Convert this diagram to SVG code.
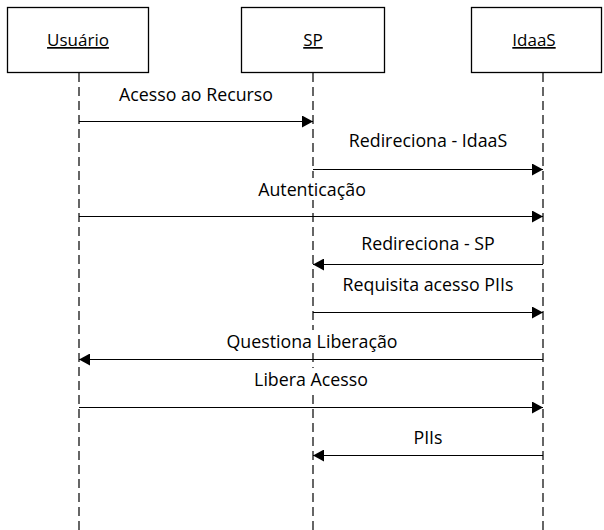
<svg xmlns="http://www.w3.org/2000/svg" width="604" height="530" viewBox="0 0 604 530">
  <defs>
    <marker id="arrow" markerWidth="12" markerHeight="12" refX="11" refY="6" orient="auto" markerUnits="userSpaceOnUse">
      <path d="M0,0 L11,6 L0,12 Z" fill="#000"/>
    </marker>
  </defs>
  <style>
    .box { fill: #fff; stroke: #000; stroke-width: 1.3; }
    .life { stroke: #000; stroke-width: 1.2; stroke-dasharray: 9 5; fill: none; }
    .head { font-family: "Open Sans", "DejaVu Sans", sans-serif; font-size: 17px; text-anchor: middle; text-decoration: underline; fill: #000; }
    .msg { stroke: #000; stroke-width: 1.2; fill: none; marker-end: url(#arrow); }
    .lbl { font-family: "Open Sans", "DejaVu Sans", sans-serif; font-size: 17.8px; text-anchor: middle; fill: #000; }
    .bg { fill: #fff; }
  </style>
  <rect width="604" height="530" fill="#fff"/>

  <!-- lifelines -->
  <g id="lifelines">
    <line class="life" x1="79" y1="73" x2="79" y2="530"/>
    <line class="life" x1="313" y1="73" x2="313" y2="530"/>
    <line class="life" x1="543" y1="73" x2="543" y2="530"/>
  </g>

  <!-- participants -->
  <g id="usuario">
    <rect class="box" x="7.5" y="7.5" width="141" height="65"/>
    <text class="head" x="78" y="46">Usuário</text>
  </g>
  <g id="sp">
    <rect class="box" x="241.5" y="7.5" width="143" height="65"/>
    <text class="head" x="313" y="46">SP</text>
  </g>
  <g id="idaas">
    <rect class="box" x="471.5" y="7.5" width="130" height="65"/>
    <text class="head" x="534" y="46">IdaaS</text>
  </g>

  <!-- messages -->
  <g id="connectors">
    <line class="msg" x1="79" y1="121.5" x2="313" y2="121.5"/>
    <line class="msg" x1="313" y1="169.5" x2="543" y2="169.5"/>
    <line class="msg" x1="79" y1="216.5" x2="543" y2="216.5"/>
    <line class="msg" x1="543" y1="264.5" x2="313" y2="264.5"/>
    <line class="msg" x1="313" y1="312.5" x2="543" y2="312.5"/>
    <line class="msg" x1="543" y1="359.5" x2="79" y2="359.5"/>
    <line class="msg" x1="79" y1="407.5" x2="543" y2="407.5"/>
    <line class="msg" x1="543" y1="455.5" x2="313" y2="455.5"/>
  </g>

  <!-- message labels, each on a white backing so lifelines pass behind -->
  <g id="labels">
    <rect class="bg" x="113" y="83" width="166" height="22"/>
    <text class="lbl" x="196" y="100.5">Acesso ao Recurso</text>
    <rect class="bg" x="342" y="130" width="172" height="22"/>
    <text class="lbl" x="428" y="147">Redireciona - IdaaS</text>
    <rect class="bg" x="255" y="178" width="116" height="22"/>
    <text class="lbl" x="312" y="196">Autenticação</text>
    <rect class="bg" x="356" y="232" width="146" height="22"/>
    <text class="lbl" x="428" y="250">Redireciona - SP</text>
    <rect class="bg" x="340" y="273" width="176" height="22"/>
    <text class="lbl" x="428" y="291">Requisita acesso PIIs</text>
    <rect class="bg" x="226" y="330" width="172" height="22"/>
    <text class="lbl" x="312" y="348">Questiona Liberação</text>
    <rect class="bg" x="254" y="368" width="116" height="22"/>
    <text class="lbl" x="311" y="386">Libera Acesso</text>
    <rect class="bg" x="411" y="426" width="34" height="22"/>
    <text class="lbl" x="428" y="444">PIIs</text>
  </g>
</svg>
